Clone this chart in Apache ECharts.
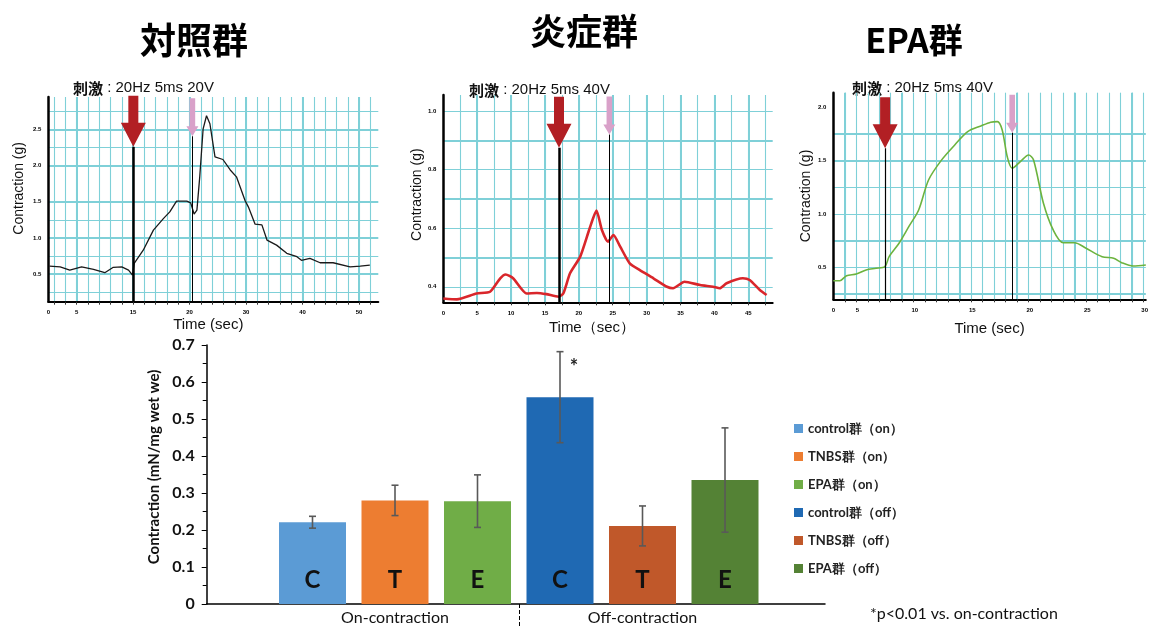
<!DOCTYPE html>
<html><head><meta charset="utf-8">
<script src="https://cdn.jsdelivr.net/npm/echarts@6/dist/echarts.min.js"></script>
<style>html,body{margin:0;padding:0;background:#fff}#c{width:1151px;height:628px}</style>
</head><body><div id="c"></div>
<script>
// ===== Panel titles / stimulus labels =====
const panelTitles = ['対照群', '炎症群', 'EPA群'];
const stimLabels = ['20Hz 5ms 20V', '20Hz 5ms 40V', '20Hz 5ms 40V'];

// ===== Panel 1: 対照群 trace (time s, contraction g) =====
const ctrlTime  = [0.2,2.1,3.8,5.9,8.0,10.0,11.5,13.0,14.2,14.9,15.2,16.8,18.6,20.4,21.5,22.7,24.5,25.2,25.8,26.3,26.8,27.4,28.0,28.6,29.5,30.9,32.2,33.3,34.8,35.4,36.6,37.8,38.7,40.4,42.2,44.0,44.8,46.3,48.1,50.4,53.4,55.2,56.9];
const ctrlForce = [0.61,0.60,0.555,0.60,0.565,0.518,0.593,0.60,0.555,0.486,0.648,0.83,1.108,1.27,1.36,1.51,1.51,1.485,1.33,1.385,1.845,2.51,2.69,2.58,2.12,2.085,1.94,1.845,1.52,1.43,1.19,1.18,0.97,0.90,0.786,0.74,0.69,0.717,0.656,0.656,0.60,0.61,0.624];

// ===== Panel 2: 炎症群 trace =====
const inflTime  = [0,2.0,4.9,6.9,8.4,9.2,10.3,12.3,13.8,15.2,17.0,17.7,18.7,20.2,21.6,22.6,23.4,24.3,25.1,26.1,27.5,29.0,31.0,33.0,33.9,35.6,37.9,39.8,40.8,41.8,44.2,45.2,46.7,47.7];
const inflForce = [0.360,0.357,0.377,0.383,0.429,0.442,0.429,0.377,0.379,0.375,0.366,0.377,0.446,0.503,0.600,0.660,0.594,0.554,0.577,0.537,0.480,0.457,0.429,0.400,0.395,0.417,0.406,0.400,0.395,0.412,0.429,0.423,0.389,0.372];

// ===== Panel 3: EPA群 trace =====
const epaTime  = [0,0.57,1.15,2.0,2.86,3.72,4.49,4.86,5.72,6.57,7.43,8.29,9.43,10.57,11.7,12.85,13.7,14.28,14.7,15.14,15.57,16.28,17.0,17.43,18.29,19.14,20.0,21.0,22.0,23.4,24.4,25.1,26.1,27.2];
const epaForce = [0.376,0.376,0.423,0.439,0.477,0.492,0.507,0.601,0.727,0.882,1.038,1.319,1.507,1.647,1.772,1.825,1.86,1.865,1.787,1.537,1.429,1.491,1.553,1.507,1.101,0.851,0.732,0.732,0.680,0.601,0.586,0.545,0.514,0.523];

// ===== Stimulus on / off markers (time, arrow-tip value) =====
const stimOnTime  = [15.05, 17.07, 4.51];
const stimOnTip   = [2.26, 0.875, 1.616];
const stimOffTime = [25.5, 24.5, 15.57];
const stimOffTip  = [2.407, 0.92, 1.762];

// ===== Tick labels for the three panels =====
const p1XLabelPos = [0,5,15,25,35,45,55];
const p1XLabelTxt = ['0','5','15','20','30','40','50'];
const p1YLabels   = [0.5,1.0,1.5,2.0,2.5];
const p2XLabelPos = [0,5,10,15,20,25,30,35,40,45];
const p2XLabelTxt = ['0','5','10','15','20','25','30','35','40','45'];
const p2YLabels   = [0.4,0.6,0.8,1.0];
const p3XLabelPos = [0,2.1,7.1,12.1,17.1,22.1,27.1];
const p3XLabelTxt = ['0','5','10','15','20','25','30'];
const p3YLabels   = [0.5,1.0,1.5,2.0];

// ===== Bar chart =====
const seriesNames = ['control群（on）','TNBS群（on）','EPA群（on）','control群（off）','TNBS群（off）','EPA群（off）'];
const barLetters  = ['C','T','E','C','T','E'];
const barValues   = [0.221, 0.280, 0.278, 0.559, 0.211, 0.335];
const barErrors   = [0.016, 0.041, 0.071, 0.123, 0.054, 0.141];
const groupNames  = ['On-contraction','Off-contraction'];
const sigIndex = 3, sigText = '*', sigValue = 0.64;
const footnote = '*p<0.01 vs. on-contraction';

// ---------- helpers ----------
function range(a, b, s){ const o=[]; for(let v=a; v<=b+1e-9; v+=s) o.push(Math.round(v*1000)/1000); return o; }
function without(arr, ex){ return arr.filter(v=>!ex.some(e=>Math.abs(e-v)<1e-6)); }
function zip(a,b){ return a.map((v,i)=>[v,b[i]]); }

const BAR_COLORS = ['#5b9bd5','#ed7d31','#70ad47','#1f69b3','#c0582a','#548235'];
const GRIDC = '#7fd0d8';
const SANS = 'Liberation Sans';
const CJK = 'Noto Sans CJK JP';
const CAL = 'Lato';
const RED_ARROW = 'path://M7.5,0L17.5,0L17.5,27L25,27L12.5,51L0,27L7.5,27Z';
const PINK_ARROW = 'path://M3.2,0L8.8,0L8.8,28L12,28L6,38L0,28L3.2,28Z';

const panels = [
  { grid:{left:48.3, top:97, width:330, height:204.7}, xMax:58.4, yMin:0.117, yMax:2.95,
    xLabelPos:p1XLabelPos, xLabelTxt:p1XLabelTxt, yLabels:p1YLabels,
    xMajor:[5,15,25,35,45,55], xMinor:without(range(1,57,2),[5,15,25,35,45,55]),
    yMajor:[0.5,1,1.5,2,2.5], yMinor:[0.25,0.75,1.25,2.25,2.75],
    data:zip(ctrlTime,ctrlForce), color:'#1a1a1a', lw:1.3, smooth:0, onW:2.5,
    xName:'Time (sec)', xNameGap:16, xNamePad:[0,10,0,0], yNameGap:22, yNamePad:[0,0,0,22] },
  { grid:{left:443.3, top:95, width:329.4, height:207.3}, xMax:48.6, yMin:0.347, yMax:1.055,
    xLabelPos:p2XLabelPos, xLabelTxt:p2XLabelTxt, yLabels:p2YLabels,
    xMajor:range(5,45,5), xMinor:range(2.5,47.5,5),
    yMajor:[0.5,0.7,0.9], yMinor:[0.4,0.6,0.8,1.0],
    data:zip(inflTime,inflForce), color:'#d9262b', lw:2.6, smooth:0.2, onW:2.5,
    xName:'Time（sec）', xNameGap:18, xNamePad:[0,32,0,0], yNameGap:16, yNamePad:[0,0,0,8] },
  { grid:{left:833.3, top:92.7, width:317.7, height:206.6}, xMax:27.2, yMin:0.202, yMax:2.136,
    xLabelPos:p3XLabelPos, xLabelTxt:p3XLabelTxt, yLabels:p3YLabels,
    xMajor:[1,6,11,16,21,26], xMinor:without(range(1,27,1),[1,6,11,16,21,26]),
    yMajor:[0.25,0.75,1.5,1.75], yMinor:[0.5,1.0,1.25],
    data:zip(epaTime,epaForce), color:'#6cb33e', lw:1.6, smooth:0.3, onW:1.2,
    xName:'Time (sec)', xNameGap:22, xNamePad:[0,0,0,0], yNameGap:20, yNamePad:[0,0,0,0] }
];

const grids=[], xAxes=[], yAxes=[], series=[];
panels.forEach((p,i)=>{
  grids.push(Object.assign({containLabel:false}, p.grid));
  xAxes.push({ type:'value', gridIndex:i, position:'bottom', min:0, max:p.xMax,
    axisLine:{show:true, onZero:false, lineStyle:{color:'#000', width:2}},
    axisTick:{show:false, customValues:p.xMajor},
    axisLabel:{customValues:p.xLabelPos, fontSize:6, fontWeight:'bold', color:'#000', margin:8, fontFamily:SANS,
      formatter:(v)=>{ const k=p.xLabelPos.findIndex(e=>Math.abs(e-v)<1e-6); return k>=0?p.xLabelTxt[k]:''; }},
    splitLine:{show:true, lineStyle:{color:GRIDC, width:2}},
    name:p.xName, nameLocation:'middle', nameGap:p.xNameGap,
    nameTextStyle:{fontSize:15, color:'#111', fontFamily:SANS, padding:p.xNamePad} });
  xAxes.push({ type:'value', gridIndex:i, position:'bottom', min:0, max:p.xMax,
    axisLine:{show:false, onZero:false}, axisLabel:{show:false},
    axisTick:{show:true, customValues:p.xMinor.concat(p.xMajor), length:3, lineStyle:{color:'#333', width:1}},
    splitLine:{show:true, lineStyle:{color:GRIDC, width:1.1}} });
  yAxes.push({ type:'value', gridIndex:i, position:'left', min:p.yMin, max:p.yMax,
    axisLine:{show:true, onZero:false, lineStyle:{color:'#000', width:2.5}},
    axisTick:{show:false, customValues:p.yMajor},
    axisLabel:{customValues:p.yLabels, fontSize:6, fontWeight:'bold', color:'#000', margin:7, fontFamily:SANS,
      formatter:(v)=>v.toFixed(1)},
    splitLine:{show:true, lineStyle:{color:GRIDC, width:2}},
    name:'Contraction (g)', nameLocation:'middle', nameGap:p.yNameGap,
    nameTextStyle:{fontSize:14, color:'#111', fontFamily:SANS, padding:p.yNamePad} });
  yAxes.push({ type:'value', gridIndex:i, position:'left', min:p.yMin, max:p.yMax,
    axisLine:{show:false, onZero:false}, axisLabel:{show:false}, axisTick:{show:false, customValues:p.yMinor},
    splitLine:{show:true, lineStyle:{color:GRIDC, width:1.1}} });
  series.push({ type:'line', xAxisIndex:2*i, yAxisIndex:2*i, data:p.data, showSymbol:false, smooth:p.smooth,
    lineStyle:{color:p.color, width:p.lw}, z:3, animation:false, silent:true,
    markLine:{ silent:true, symbol:'none', animation:false, label:{show:false},
      data:[
        [{coord:[stimOnTime[i], stimOnTip[i]], lineStyle:{color:'#000', width:p.onW, type:'solid'}}, {coord:[stimOnTime[i], p.yMin]}],
        [{coord:[stimOffTime[i], stimOffTip[i]], lineStyle:{color:'#000', width:1, type:'solid'}}, {coord:[stimOffTime[i], p.yMin]}]
      ]},
    markPoint:{ silent:true, animation:false, label:{show:false},
      data:[
        {coord:[stimOnTime[i], stimOnTip[i]], symbol:RED_ARROW, symbolSize:[25,51], symbolOffset:[0,'-50%'], itemStyle:{color:'#b21f24'}},
        {coord:[stimOffTime[i], stimOffTip[i]], symbol:PINK_ARROW, symbolSize:[12,38], symbolOffset:[0,'-50%'], itemStyle:{color:'#d9a1c9'}}
      ]}
  });
});

// ---------- bar chart ----------
// grid 3: frame (axes), grid 4: bars
grids.push({left:206.7, top:345, width:618.3, height:259});
grids.push({left:271.25, top:345, width:495, height:259});
xAxes.push({ type:'value', gridIndex:3, position:'bottom', min:0, max:1, axisLine:{show:true, lineStyle:{color:'#000', width:1.5}},
  axisTick:{show:false}, axisLabel:{show:false}, splitLine:{show:false} });       // 6
xAxes.push({ type:'category', gridIndex:4, position:'bottom', data:seriesNames, show:false });       // 7
xAxes.push({ type:'value', gridIndex:4, position:'bottom', min:0, max:2, axisLine:{show:false, onZero:false},
  axisTick:{show:true, customValues:[1], length:24, lineStyle:{color:'#000', width:1, type:'dashed'}},
  axisLabel:{customValues:[0.5,1.5], fontSize:16, color:'#111', fontFamily:CAL, margin:6,
    formatter:(v)=>groupNames[Math.floor(v)]},
  splitLine:{show:false} });                                                        // 8
yAxes.push({ type:'value', gridIndex:3, position:'left', min:0, max:0.7, interval:0.1,
  axisLine:{show:true, lineStyle:{color:'#000', width:1.5}},
  axisTick:{show:true, length:5, lineStyle:{color:'#000'}},
  minorTick:{show:true, splitNumber:2, length:4, lineStyle:{color:'#000'}},
  axisLabel:{fontSize:16, fontWeight:'bold', color:'#111', fontFamily:CAL, margin:12,
    formatter:(v)=> v===0 ? '0' : v.toFixed(1)},
  splitLine:{show:false},
  name:'Contraction (mN/mg wet we)', nameLocation:'middle', nameGap:40,
  nameTextStyle:{fontSize:15, fontWeight:'bold', color:'#111', fontFamily:CAL, padding:[0,0,0,15]} }); // 6
yAxes.push({ type:'value', gridIndex:4, position:'left', min:0, max:0.7, show:false });             // 7

seriesNames.forEach((name,i)=>{
  const s = { type:'bar', name, xAxisIndex:7, yAxisIndex:7, stack:'all', barWidth:67, animation:false,
    itemStyle:{color:BAR_COLORS[i]},
    data: seriesNames.map((_,j)=> j===i ? barValues[i] : '-'),
    label:{show:true, position:'insideBottom', distance:12, formatter:barLetters[i],
      fontSize:24, fontWeight:'bold', color:'#111', fontFamily:CAL} };
  if (i===sigIndex) {
    s.markPoint = { silent:true, animation:false, symbol:'circle', symbolSize:1, itemStyle:{color:'rgba(0,0,0,0)'},
      label:{show:true, formatter:sigText, fontSize:20, fontWeight:'bold', color:'#222', offset:[14,0], fontFamily:CAL},
      data:[{coord:[sigIndex, sigValue]}] };
  }
  series.push(s);
});

series.push({ type:'custom', xAxisIndex:7, yAxisIndex:7, z:5, animation:false, silent:true,
  data: barValues.map((v,i)=>[i, v-barErrors[i], v+barErrors[i]]),
  encode:{x:0, y:[1,2]},
  renderItem:(params, api)=>{
    const x=api.value(0), lo=api.coord([x, api.value(1)]), hi=api.coord([x, api.value(2)]);
    const w=7, st={stroke:'#595959', lineWidth:1.6};
    return {type:'group', children:[
      {type:'line', shape:{x1:lo[0],y1:lo[1],x2:hi[0],y2:hi[1]}, style:st},
      {type:'line', shape:{x1:hi[0]-w/2,y1:hi[1],x2:hi[0]+w/2,y2:hi[1]}, style:st},
      {type:'line', shape:{x1:lo[0]-w/2,y1:lo[1],x2:lo[0]+w/2,y2:lo[1]}, style:st}
    ]};
  }});

const stimRich = { b:{fontFamily:CJK, fontWeight:'bold', fontSize:15, fill:'#111', color:'#111'},
                   n:{fontFamily:SANS, fontSize:15, fill:'#111', color:'#111'} };
const stimPos = [[73,88],[469,90],[852,88]];
const titlePos = [[194,40],[584,31],[914,40]];
const titleSize = [36,36,34];
const graphics = [];
panelTitles.forEach((t,i)=>graphics.push({type:'text', x:titlePos[i][0], y:titlePos[i][1], silent:true,
  style:{text:t, fontSize:titleSize[i], fontWeight:'bold', fontFamily:CJK, fill:'#000', align:'center', verticalAlign:'middle'}}));
stimLabels.forEach((t,i)=>graphics.push({type:'text', x:stimPos[i][0], y:stimPos[i][1], silent:true,
  style:{text:'{b|刺激}{n| : '+t+'}', rich:stimRich, align:'left', verticalAlign:'middle'}}));
graphics.push({type:'text', x:870, y:614, silent:true,
  style:{text:footnote, fontSize:16, fontFamily:CAL, fill:'#111', align:'left', verticalAlign:'middle'}});

const chart = echarts.init(document.getElementById('c'), null, {renderer:'canvas'});
chart.setOption({
  animation:false,
  backgroundColor:'#fff',
  grid:grids, xAxis:xAxes, yAxis:yAxes, series,
  legend:{ data:seriesNames, orient:'vertical', left:789, top:417, itemWidth:9, itemHeight:9, itemGap:15,
    icon:'rect', selectedMode:false,
    textStyle:{fontSize:13, fontWeight:'bold', color:'#222', fontFamily:CAL} },
  graphic:graphics
});
</script></body></html>
